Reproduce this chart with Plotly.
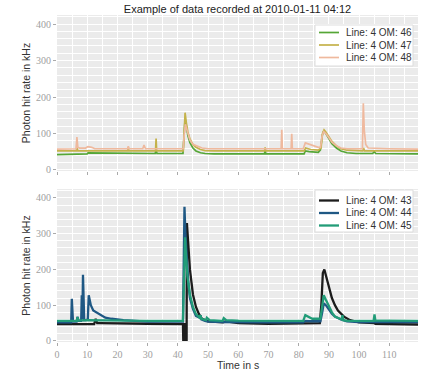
import plotly.graph_objects as go

# ---------------- data ----------------
# Top panel
t46 = [0, 4.8, 5.0, 10.0, 10.3, 19.5, 19.8, 32.5, 32.8, 33.1, 41.7, 42.0, 42.4, 42.8, 43.3, 44.0, 45.0, 46.0, 47.5, 49.0, 52.0, 60.0, 68.7, 68.9, 69.1, 75.0, 81.8, 82.2, 83.5, 86.5, 87.2, 87.8, 88.3, 89.0, 90.0, 91.0, 92.5, 94.0, 96.0, 99.0, 104.5, 105.0, 105.5, 112.0, 119.5]
v46 = [42, 42, 44, 44, 47, 47, 45, 45, 55, 45, 45, 100, 140, 120, 95, 75, 60, 52, 47, 45, 44, 44, 44, 58, 44, 44, 44, 52, 50, 48, 55, 95, 107, 100, 85, 72, 60, 52, 47, 45, 45, 50, 45, 45, 44]

t47 = [0, 6.4, 6.6, 6.9, 23.4, 23.6, 23.8, 32.6, 32.8, 33.0, 41.8, 42.1, 42.4, 42.8, 43.3, 44, 45, 46, 47.5, 49, 52, 68.7, 68.9, 69.1, 81.8, 82.3, 84, 86.5, 87.4, 87.9, 88.4, 89, 90, 91, 92.5, 94, 96, 99, 101.2, 101.5, 101.8, 110, 119.5]
v47 = [52, 52, 62, 52, 52, 62, 52, 52, 86, 52, 52, 120, 157, 130, 105, 85, 70, 62, 56, 53, 52, 52, 62, 52, 52, 60, 56, 54, 60, 100, 110, 104, 90, 78, 66, 58, 54, 52, 52, 60, 52, 52, 52]

t48 = [0, 5, 6.3, 6.6, 6.9, 7.5, 9.5, 10.2, 11.5, 12.5, 23.4, 23.6, 23.8, 28.4, 28.8, 29.3, 41.8, 42.1, 42.5, 43, 43.5, 44, 45, 46.5, 48, 50, 60, 74.2, 74.4, 74.6, 77.5, 77.7, 77.9, 81.5, 82.2, 83.5, 85, 86.5, 87.2, 87.8, 88.3, 89, 90, 91, 92.5, 94, 96, 99, 101.1, 101.4, 101.7, 102.2, 103, 110, 119.5]
v48 = [57, 57, 58, 90, 62, 60, 60, 64, 62, 58, 58, 65, 58, 58, 68, 58, 58, 95, 125, 110, 95, 82, 70, 64, 60, 58, 58, 58, 110, 58, 58, 99, 58, 58, 74, 70, 65, 62, 62, 95, 105, 100, 88, 76, 66, 60, 58, 58, 58, 183, 110, 70, 60, 58, 57]

# Bottom panel
t43 = [0, 12.3, 12.8, 13.3, 14, 20, 30, 41.7, 41.8, 42.0, 42.2, 42.4, 42.6, 42.8, 42.9, 43.0, 43.4, 44, 45, 46, 47, 48, 50, 55, 56, 60, 70, 81.5, 82, 87, 87.5, 88, 88.5, 89, 90, 91, 92, 93, 95, 97, 100, 104.8, 105, 105.4, 110, 119.5]
v43 = [47, 47, 62, 50, 50, 50, 48, 47, 0, 50, 0, 50, 0, 50, 0, 330, 280, 200, 130, 95, 75, 62, 55, 52, 55, 50, 48, 48, 50, 50, 100, 190, 200, 185, 150, 120, 100, 85, 68, 58, 52, 50, 60, 48, 47, 46]

t44 = [0, 4.7, 4.9, 5.1, 5.3, 6.5, 6.8, 7.1, 8.0, 8.2, 8.4, 8.6, 8.8, 9.0, 9.5, 10.2, 10.5, 10.8, 11.2, 12, 13, 14, 15, 16, 18, 22, 30, 41.7, 42.0, 42.2, 42.5, 43, 43.5, 44, 45, 46, 47.2, 47.5, 47.8, 49, 50, 55, 60, 70, 81.5, 82.2, 84, 87.2, 87.8, 88.3, 89, 90, 91, 92, 94, 96, 100, 110, 119.5]
v44 = [52, 52, 118, 60, 54, 54, 68, 56, 56, 128, 60, 185, 120, 58, 58, 60, 128, 110, 100, 85, 80, 75, 70, 65, 62, 58, 54, 54, 250, 375, 300, 220, 160, 120, 90, 70, 65, 72, 60, 56, 54, 53, 52, 52, 52, 56, 55, 55, 80, 105, 100, 88, 76, 68, 60, 55, 53, 53, 53]

t45 = [0, 6.5, 6.8, 7.1, 10, 20, 30, 41.7, 42.1, 42.4, 42.7, 43.2, 44, 45, 46, 47.2, 47.5, 47.8, 49.3, 49.6, 50.5, 54.8, 55.2, 56, 60, 70, 81.5, 82.2, 83, 84.5, 87.2, 87.8, 88.3, 89, 90, 91, 92, 94.2, 94.5, 94.8, 96, 100, 104.8, 105.1, 105.4, 110, 119.5]
v45 = [56, 56, 66, 57, 58, 56, 56, 56, 200, 290, 240, 180, 130, 95, 75, 65, 72, 62, 58, 65, 58, 56, 64, 58, 57, 56, 56, 72, 68, 62, 62, 100, 128, 115, 95, 80, 68, 60, 72, 58, 56, 56, 56, 74, 57, 57, 56]

names_top = ["Line: 4 OM: 46", "Line: 4 OM: 47", "Line: 4 OM: 48"]
names_bot = ["Line: 4 OM: 43", "Line: 4 OM: 44", "Line: 4 OM: 45"]
x_ticks = [0, 10, 20, 30, 40, 50, 60, 70, 80, 90, 100, 110]
y_ticks = [0, 100, 200, 300, 400]

# ---------------- figure ----------------
fig = go.Figure()

top_cols = ["#55a636", "#c4b24a", "#efb99e"]
bot_cols = ["#1c1c1c", "#1f5884", "#229c78"]
top_w = 1.7
bot_w = 2.3

for t, v, n, c in zip([t46, t47, t48], [v46, v47, v48], names_top, top_cols):
    fig.add_trace(go.Scatter(x=t, y=v, name=n, mode="lines",
                             line=dict(color=c, width=top_w),
                             xaxis="x2", yaxis="y2", showlegend=False))

for t, v, n, c in zip([t43, t44, t45], [v43, v44, v45], names_bot, bot_cols):
    fig.add_trace(go.Scatter(x=t, y=v, name=n, mode="lines",
                             line=dict(color=c, width=bot_w),
                             xaxis="x", yaxis="y", showlegend=False))

tickfont = dict(family="Liberation Serif", size=10, color="#a0a0a0")
grid = dict(showgrid=True, gridcolor="white", gridwidth=1, zeroline=False,
            showline=False, ticks="outside", ticklen=3, tickcolor="#aaaaaa",
            tickfont=tickfont, automargin=False)

xcommon = dict(range=[0, 119.5], tickvals=x_ticks,
               minor=dict(dtick=5, tick0=0, showgrid=True, gridcolor="white", gridwidth=0.5),
               **grid)
ycommon = dict(range=[-3, 425], tickvals=y_ticks,
               minor=dict(dtick=20, tick0=0, showgrid=True, gridcolor="white", gridwidth=0.5),
               **grid)

lab_font = dict(family="Liberation Sans", size=10.5, color="#333333")

# layout geometry (pixels)
W, Hfig = 421, 372
L, R, T, B = 57, 3, 15, 30
PW = W - L - R
PH = Hfig - T - B


def px(x):
    return (x - L) / PW


def py(y):
    return (Hfig - B - y) / PH


fig.update_layout(
    width=W, height=Hfig,
    margin=dict(l=L, r=R, t=T, b=B),
    paper_bgcolor="white", plot_bgcolor="#ebebeb",
    showlegend=False,
    title=dict(text="Example of data recorded at 2010-01-11 04:12",
               x=0.5, xref="paper", y=1 - 9 / Hfig, yanchor="middle",
               font=dict(family="Liberation Sans", size=11, color="#222222")),
    xaxis=dict(domain=[0, 1], anchor="y", showticklabels=True, **xcommon),
    yaxis=dict(domain=[0, 153 / PH], anchor="x",
               title=dict(text="Photon hit rate in kHz", font=lab_font, standoff=3), **ycommon),
    xaxis2=dict(domain=[0, 1], anchor="y2", matches="x", showticklabels=False, **xcommon),
    yaxis2=dict(domain=[(PH - 156) / PH, 1], anchor="x2",
                title=dict(text="Photon hit rate in kHz", font=lab_font, standoff=3), **ycommon),
)

# x-axis title as annotation (tight space at bottom)
fig.add_annotation(text="Time in s", xref="paper", yref="paper", x=0.5, y=py(365),
                   yanchor="middle", showarrow=False, font=lab_font)

# manual compact legends
legend_font = dict(family="Liberation Sans", size=10, color="#333333")


def add_legend(names, cols, width, box_top, box_bot, rows_y):
    fig.add_shape(type="rect", xref="paper", yref="paper",
                  x0=px(315), x1=px(413), y0=py(box_bot), y1=py(box_top),
                  fillcolor="white", line=dict(color="#dddddd", width=1), layer="above")
    for n, c, ry in zip(names, cols, rows_y):
        fig.add_shape(type="line", xref="paper", yref="paper",
                      x0=px(319), x1=px(339), y0=py(ry), y1=py(ry),
                      line=dict(color=c, width=width), layer="above")
        fig.add_annotation(text=n, xref="paper", yref="paper", x=px(344), y=py(ry),
                           xanchor="left", yanchor="middle", showarrow=False,
                           font=legend_font)


add_legend(names_top, top_cols, top_w, 25, 66, [32.5, 45, 57.5])
add_legend(names_bot, bot_cols, bot_w, 190, 232, [200.5, 213, 225.5])

# the page body has a default 8px margin; remove it so the figure fills the window
fig.write_html("out.html", config={"displayModeBar": False},
               post_script="document.body.style.margin='0';")
